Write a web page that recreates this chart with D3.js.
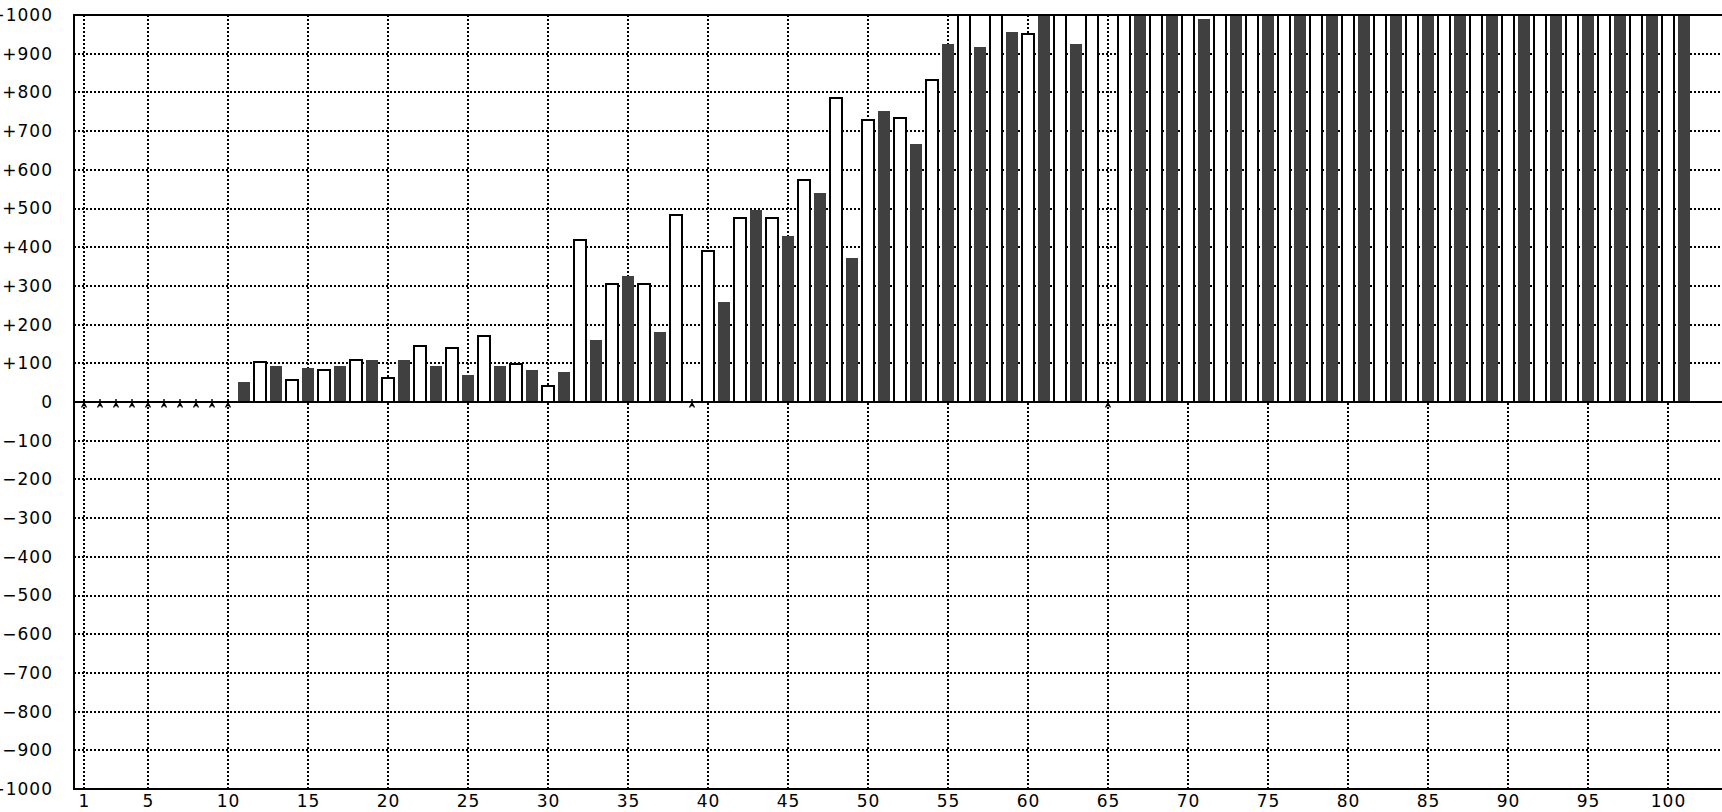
<!DOCTYPE html>
<html><head><meta charset="utf-8">
<script src="https://cdn.jsdelivr.net/npm/d3@7/dist/d3.min.js"></script>
<style>
body{margin:0;background:#fff}
svg{display:block;background:#fff}
text{font-family:"DejaVu Sans",Verdana,sans-serif;font-size:17px;fill:#000}
</style>
</head><body>
<svg id="chart" width="1722" height="812"></svg>
<script>
// ---- data ----
const categories = d3.range(1, 102);
// null = no value (drawn as a small star marker on the zero line)
const values = [
  null, null, null, null, null, null, null, null, null, null,   // 1-10
  51, 103, 92, 57, 87, 83, 92, 108, 108, 62,                      // 11-20
  108, 144, 92, 139, 71, 170, 92, 98, 82, 41,                     // 21-30
  77, 419, 159, 306, 325, 306, 180, 482, null, 389,               // 31-40
  258, 476, 495, 476, 428, 574, 540, 785, 371, 729,               // 41-50
  753, 734, 666, 831, 924, 1000, 918, 1000, 955, 951,             // 51-60
  1000, 1000, 924, 1000, null, 1000, 1000, 1000, 1000, 1000,      // 61-70
  990, 1000, 1000, 1000, 1000, 1000, 1000, 1000, 1000, 1000,      // 71-80
  1000, 1000, 1000, 1000, 1000, 1000, 1000, 1000, 1000, 1000,     // 81-90
  1000, 1000, 1000, 1000, 1000, 1000, 1000, 1000, 1000, 1000,     // 91-100
  1000                                                            // 101
];
const yTickValues = [-1000,-900,-800,-700,-600,-500,-400,-300,-200,-100,0,100,200,300,400,500,600,700,800,900,1000];
const yTickLabels = ["\u22121000","\u2212900","\u2212800","\u2212700","\u2212600","\u2212500","\u2212400","\u2212300","\u2212200","\u2212100","0","+100","+200","+300","+400","+500","+600","+700","+800","+900","+1000"];
const xTickValues = [1,5,10,15,20,25,30,35,40,45,50,55,60,65,70,75,80,85,90,95,100];

// ---- layout ----
const PL = 74, PR = 1722, PT = 15, PB = 789;
const svg = d3.select("#chart");

const x = d3.scaleLinear().domain([1, 101]).range([84, 1684]);
const y = d3.scaleLinear().domain([-1000, 1000]).range([PB, PT]);

const DARK = "#404040";
const FONT = '"DejaVu Sans",Verdana,sans-serif';

// grid
const grid = svg.append("g");
grid.selectAll("line.h").data(yTickValues.filter(v => Math.abs(v) !== 1000 && v !== 0))
  .join("line").attr("class","h")
  .attr("x1", PL).attr("x2", PR)
  .attr("y1", d => Math.round(y(d))).attr("y2", d => Math.round(y(d)))
  .attr("stroke","#000").attr("stroke-width",2).attr("stroke-dasharray","2,2");
grid.selectAll("line.v").data(xTickValues)
  .join("line").attr("class","v")
  .attr("x1", d => Math.round(x(d))).attr("x2", d => Math.round(x(d)))
  .attr("y1", PT).attr("y2", PB)
  .attr("stroke","#000").attr("stroke-width",2).attr("stroke-dasharray","2,2");

// bars
const data = categories.map((c, i) => ({c, v: values[i]}));
const bars = svg.append("g");
bars.selectAll("rect").data(data.filter(d => d.v !== null))
  .join("rect")
  .attr("x", d => Math.round(x(d.c)) - 6)
  .attr("width", 12)
  .attr("y", d => Math.round(y(Math.min(d.v, 1000))))
  .attr("height", d => Math.round(y(0)) - Math.round(y(Math.min(d.v, 1000))))
  .attr("fill", d => d.c % 2 === 1 ? DARK : "#fff")
  .attr("stroke", d => d.c % 2 === 1 ? "none" : "#000")
  .attr("stroke-width", 2);

// axes lines
const axes = svg.append("g").attr("stroke","#000").attr("stroke-width",2);
[PT, Math.round(y(0)), PB].forEach(yy => {
  axes.append("line").attr("x1", PL).attr("x2", PR).attr("y1", yy).attr("y2", yy);
});
axes.append("line").attr("x1", PL).attr("x2", PL).attr("y1", PT - 1).attr("y2", PB + 1);

// star markers for missing values
const star = svg.append("g").attr("stroke","#000").attr("stroke-width",1.4).attr("fill","none");
data.filter(d => d.v === null).forEach(d => {
  const cx = Math.round(x(d.c)), cy = Math.round(y(0));
  star.append("path").attr("d",
    `M${cx},${cy-3}V${cy+1}M${cx},${cy+1}L${cx-2.5},${cy+5.5}M${cx},${cy+1}L${cx+2.5},${cy+5.5}M${cx-1.5},${cy+3.5}H${cx+1.5}`);
});

// y axis labels
const yAxis = d3.axisLeft(y).tickValues(yTickValues)
  .tickFormat((d, i) => yTickLabels[i]).tickSize(0).tickPadding(21);
const yg = svg.append("g").attr("transform", `translate(${PL},0)`).call(yAxis);
yg.select(".domain").remove();
yg.selectAll("text").style("font-family",FONT).style("font-size","17px").style("letter-spacing","1px").attr("fill","#000");

// x axis labels
const xAxis = d3.axisBottom(x).tickValues(xTickValues).tickFormat(d => String(d)).tickSize(0).tickPadding(6);
const xg = svg.append("g").attr("transform", `translate(0,${PB})`).call(xAxis);
xg.select(".domain").remove();
xg.selectAll("text").style("font-family",FONT).style("font-size","17px").style("letter-spacing","1px").attr("fill","#000");
</script>
</body></html>
